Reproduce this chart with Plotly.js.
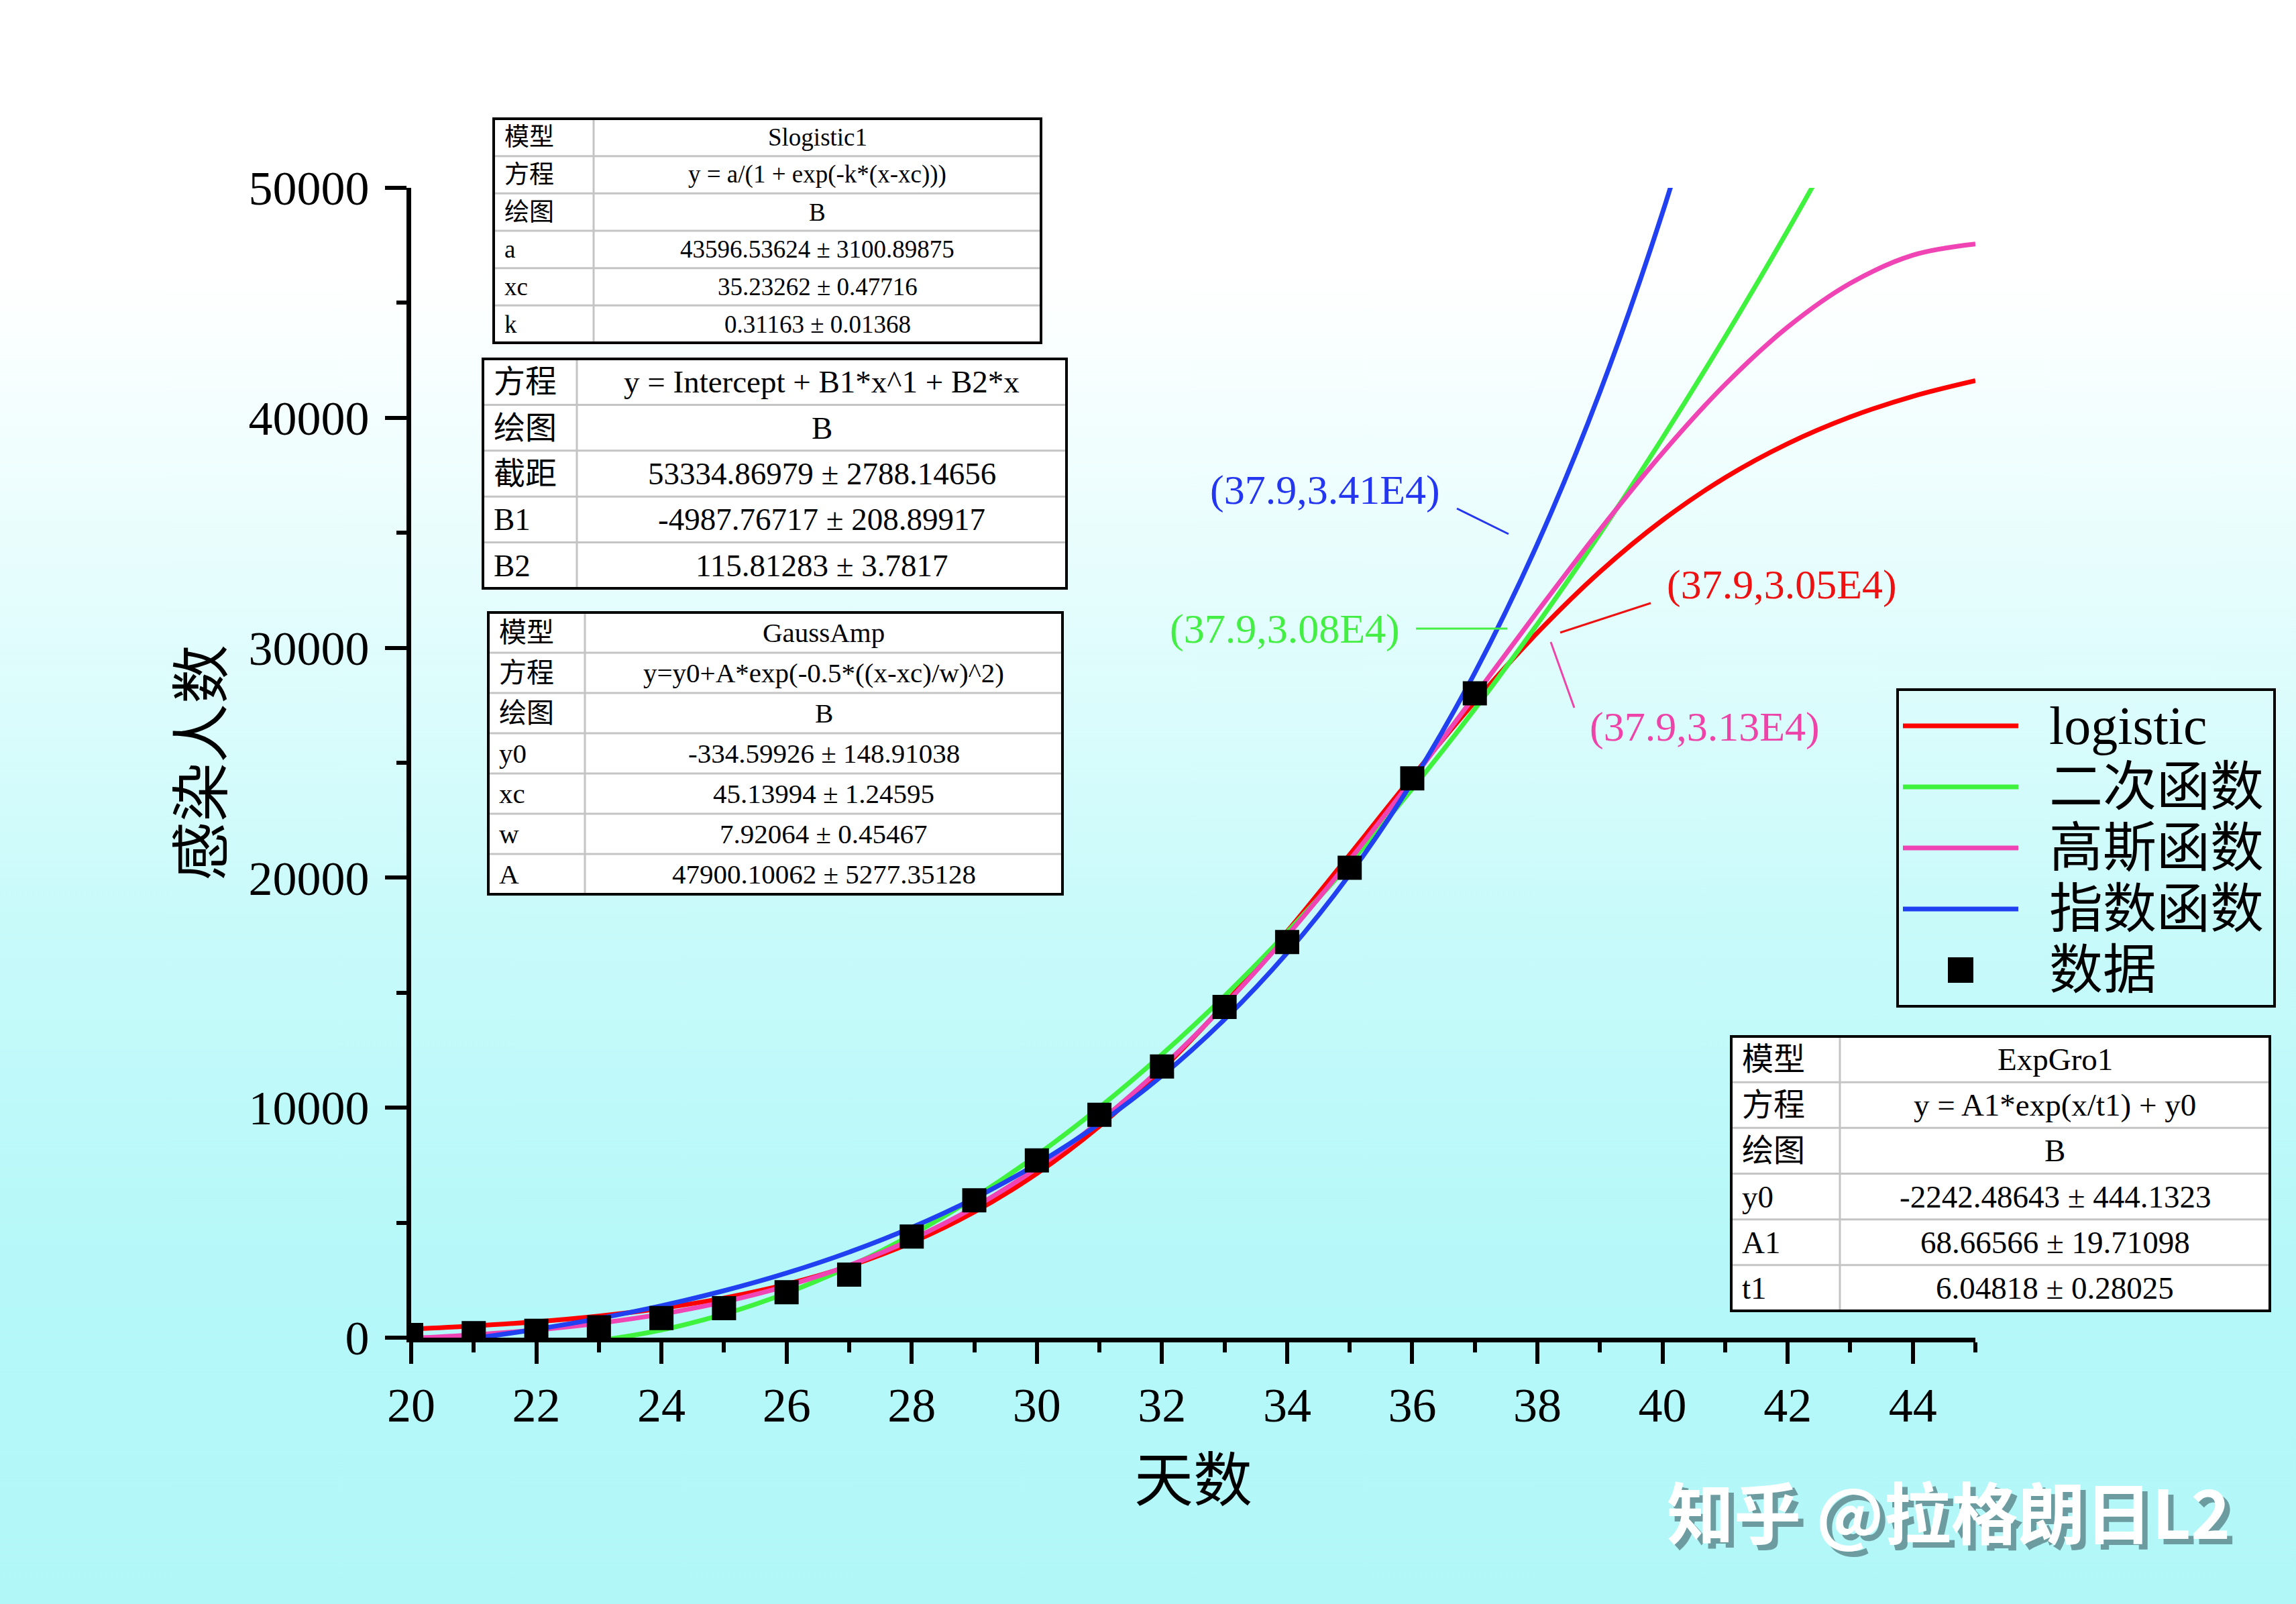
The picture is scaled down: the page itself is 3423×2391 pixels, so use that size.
<!DOCTYPE html>
<html><head><meta charset="utf-8">
<script src="https://cdn.plot.ly/plotly-3.0.1.min.js"></script>
<style>
html,body{margin:0;padding:0;}
body{background:linear-gradient(to bottom,#ffffff 0%,#ffffff 17%,#e6fdfd 36%,#c8fafa 58%,#b6f8f9 78%,#b2f7f8 100%);}
#chart{width:3423px;height:2391px;}
</style></head><body><div id="chart"></div>
<script>
// ---------------- data ----------------
const days  = [20,21,22,23,24,25,26,27,28,29,30,31,32,33,34,35,36,37];
const cases = [120,200,300,450,850,1287,1975,2744,4400,5974,7711,9692,11791,14380,17205,20438,24324,28018];

const fitX26 = [20,21,22,23,24,25,26,27,28,29,30,31,32,33,34,35,36,37,38,39,40,41,42,43,44,45];
const logisticY = [375.0,510.6,694.4,942.6,1277.4,1725.9,2322.7,3112.3,4142.2,5466.6,7138.8,9197.6,11661.3,14506.0,17662,21008,24392,27654,30654,33303,35549,37399,38877,40038,40932,41613];
const quadX = [20,21,22,23,24,25,26,27,28,29,30,31,32,33,34,35,36,37,38,39,40,41,42,43];
const quadY = [-95.3,-334.8,-342.6,-118.8,336.7,1023.7,1942.5,3092.7,4474.6,6088.3,7933.4,10010.2,12318.7,14858.7,17630.4,20633.8,23868.7,27335.2,31033.5,34963.3,39124.7,43517.8,48142.5,52998.8];
const gaussY = [-23.5,126.1,336.7,628.4,1025.4,1555.3,2249.3,3143.2,4273.3,5672.6,7374.4,9400.7,11763.5,14463.6,17479.5,20773.7,24278.9,27914.5,31572.7,35133.6,38470.9,41449.7,43944.4,45848.4,47072.1,47557.9];
const expX = [20,21,22,23,24,25,26,27,28,29,30,31,32,33,34,35,36,37,38,39,40,41];
const expY = [-367.9,-31.1,366.5,835.5,1389.0,2041.9,2812.1,3720.9,4793.1,6058.0,7550.5,9311.1,11388.5,13839.3,16730.6,20141.8,24166.3,28914.7,34516.4,41125.5,48922.5,58121.5];

const seriesNames  = ['logistic','二次函数','高斯函数','指数函数','数据'];
const seriesColors = ['#ff0000','#3ef23e','#f044b4','#2040f2','#000000'];

const pointLabels = ['(37.9,3.41E4)','(37.9,3.08E4)','(37.9,3.05E4)','(37.9,3.13E4)'];
const pointLabelColors = ['#2436f0','#44ee44','#ee1111','#ee44aa'];

const xTitle = '天数';
const yTitle = '感染人数';
const watermark = '知乎 @拉格朗日L2';

const table1 = [['模型','Slogistic1'],['方程','y = a/(1 + exp(-k*(x-xc)))'],['绘图','B'],['a','43596.53624 ± 3100.89875'],['xc','35.23262 ± 0.47716'],['k','0.31163 ± 0.01368']];
const table2 = [['方程','y = Intercept + B1*x^1 + B2*x'],['绘图','B'],['截距','53334.86979 ± 2788.14656'],['B1','-4987.76717 ± 208.89917'],['B2','115.81283 ± 3.7817']];
const table3 = [['模型','GaussAmp'],['方程','y=y0+A*exp(-0.5*((x-xc)/w)^2)'],['绘图','B'],['y0','-334.59926 ± 148.91038'],['xc','45.13994 ± 1.24595'],['w','7.92064 ± 0.45467'],['A','47900.10062 ± 5277.35128']];
const table4 = [['模型','ExpGro1'],['方程','y = A1*exp(x/t1) + y0'],['绘图','B'],['y0','-2242.48643 ± 444.1323'],['A1','68.66566 ± 19.71098'],['t1','6.04818 ± 0.28025']];

// ---------------- layout helpers ----------------
const PL = 613, PR = 2945, PT = 280, PB = 1994;
const W = PR - PL, H = PB - PT;
const px = v => (v - PL) / W;
const py = v => (PB - v) / H;
const SERIF = "'Liberation Serif', 'Noto Sans CJK SC', serif";
const CJK = "'Noto Sans CJK SC', sans-serif";

const shapes = [];
const annotations = [];

function addTable(rows, left, right, top, bottom, split, fs) {
  const n = rows.length, rh = (bottom - top) / n;
  shapes.push({type:'rect', xref:'paper', yref:'paper', x0:px(left), x1:px(right), y0:py(top), y1:py(bottom),
    fillcolor:'#ffffff', line:{width:0}, layer:'above'});
  for (let i = 1; i < n; i++) {
    const yy = top + i * rh;
    shapes.push({type:'line', xref:'paper', yref:'paper', x0:px(left), x1:px(right), y0:py(yy), y1:py(yy),
      line:{color:'#c4c4c4', width:3}, layer:'above'});
  }
  shapes.push({type:'line', xref:'paper', yref:'paper', x0:px(split), x1:px(split), y0:py(top), y1:py(bottom),
    line:{color:'#c4c4c4', width:3}, layer:'above'});
  shapes.push({type:'rect', xref:'paper', yref:'paper', x0:px(left), x1:px(right), y0:py(top), y1:py(bottom),
    line:{color:'#000000', width:4}, layer:'above'});
  rows.forEach((r, i) => {
    const yc = top + (i + 0.5) * rh;
    annotations.push({xref:'paper', yref:'paper', x:px(left + 14), y:py(yc), xanchor:'left', yanchor:'middle',
      text:r[0], showarrow:false, font:{family:SERIF, size:fs, color:'#000'}});
    annotations.push({xref:'paper', yref:'paper', x:px((split + right) / 2), y:py(yc), xanchor:'center', yanchor:'middle',
      text:r[1], showarrow:false, font:{family:SERIF, size:fs, color:'#000'}});
  });
}

addTable(table1, 736, 1552, 177, 511, 885, 37);
addTable(table2, 720, 1590, 535, 877, 860, 47);
addTable(table3, 728, 1584, 913, 1333, 872, 41);
addTable(table4, 2581, 3384, 1545, 1954, 2743, 47);

// custom legend
const LG = {left:2829, right:3391, top:1028, bottom:1500, lineX0:2837, lineX1:3009, textX:3053, rows:[1082,1173,1264,1355,1446]};
shapes.push({type:'rect', xref:'paper', yref:'paper', x0:px(LG.left), x1:px(LG.right), y0:py(LG.top), y1:py(LG.bottom),
  line:{color:'#000', width:4}, layer:'above'});
seriesNames.forEach((nm, i) => {
  const yc = LG.rows[i];
  if (i < 4) {
    shapes.push({type:'line', xref:'paper', yref:'paper', x0:px(LG.lineX0), x1:px(LG.lineX1), y0:py(yc), y1:py(yc),
      line:{color:seriesColors[i], width:7}, layer:'above'});
  } else {
    const cx = (LG.lineX0 + LG.lineX1) / 2;
    shapes.push({type:'rect', xref:'paper', yref:'paper', x0:px(cx - 19), x1:px(cx + 19), y0:py(yc - 19), y1:py(yc + 19),
      fillcolor:'#000', line:{width:0}, layer:'above'});
  }
  annotations.push({xref:'paper', yref:'paper', x:px(LG.textX), y:py(yc), xanchor:'left', yanchor:'middle',
    text:nm, showarrow:false, font:{family:SERIF, size:80, color:'#000'}});
});

// point labels with connector lines
const labelPos = [[1975,730],[1915,938],[2656,872],[2541,1083]];
const connectors = [[2172,758,2249,796],[2111,937,2247,937],[2461,899,2326,943],[2312,957,2347,1055]];
pointLabels.forEach((t, i) => {
  annotations.push({xref:'paper', yref:'paper', x:px(labelPos[i][0]), y:py(labelPos[i][1]), xanchor:'center', yanchor:'middle',
    text:t, showarrow:false, font:{family:SERIF, size:62, color:pointLabelColors[i]}});
  const c = connectors[i];
  shapes.push({type:'line', xref:'paper', yref:'paper', x0:px(c[0]), y0:py(c[1]), x1:px(c[2]), y1:py(c[3]),
    line:{color:pointLabelColors[i], width:3}, layer:'above'});
});

// watermark (white text with drop shadow)
annotations.push({xref:'paper', yref:'paper', x:px(2905), y:py(2250), xanchor:'center', yanchor:'middle', text:watermark,
  showarrow:false, font:{family:CJK, size:100, weight:700, color:'#ffffff', shadow:'8px 8px 0px rgba(95,140,145,0.85)'}});

// ---------------- traces ----------------
const lw = 7;
const traces = [
  {x:fitX26, y:logisticY, type:'scatter', mode:'lines', name:seriesNames[0], line:{color:seriesColors[0], width:lw, shape:'spline'}},
  {x:quadX,  y:quadY,     type:'scatter', mode:'lines', name:seriesNames[1], line:{color:seriesColors[1], width:lw, shape:'spline'}},
  {x:fitX26, y:gaussY,    type:'scatter', mode:'lines', name:seriesNames[2], line:{color:seriesColors[2], width:lw, shape:'spline'}},
  {x:expX,   y:expY,      type:'scatter', mode:'lines', name:seriesNames[3], line:{color:seriesColors[3], width:lw, shape:'spline'}},
  {x:days,   y:cases,     type:'scatter', mode:'markers', name:seriesNames[4], marker:{symbol:'square', size:36, color:seriesColors[4], line:{width:0}}}
];

const axisCommon = {
  showline:true, linecolor:'#000', linewidth:7, ticks:'outside', ticklen:32, tickwidth:6, tickcolor:'#000',
  showgrid:false, zeroline:false, tickfont:{family:SERIF, size:72, color:'#000'}, fixedrange:true
};

const layout = {
  width:3423, height:2391,
  paper_bgcolor:'rgba(0,0,0,0)', plot_bgcolor:'rgba(0,0,0,0)',
  margin:{l:PL, r:3423 - PR, t:PT, b:2391 - PB, pad:0},
  showlegend:false,
  xaxis:Object.assign({}, axisCommon, {range:[20,45], tick0:20, dtick:2,
    minor:{dtick:1, ticks:'outside', ticklen:15, tickwidth:6, tickcolor:'#000', showgrid:false},
    ticklabelstandoff:0,
    title:{text:xTitle, font:{family:CJK, size:88, color:'#000'}, standoff:40}}),
  yaxis:Object.assign({}, axisCommon, {range:[0,50000], tick0:0, dtick:10000, tickformat:'d',
    minor:{dtick:5000, ticks:'outside', ticklen:15, tickwidth:6, tickcolor:'#000', showgrid:false},
    ticklabelstandoff:9,
    title:{text:yTitle, font:{family:CJK, size:88, color:'#000'}, standoff:12}}),
  shapes:shapes, annotations:annotations
};

Plotly.newPlot('chart', traces, layout, {staticPlot:true, displayModeBar:false});
</script></body></html>
